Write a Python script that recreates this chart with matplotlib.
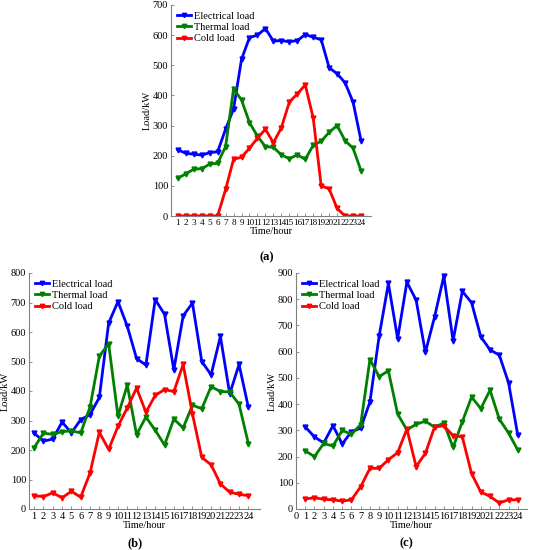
import matplotlib
matplotlib.use("Agg")
import matplotlib.pyplot as plt

plt.rcParams['font.family'] = ['Liberation Serif', 'DejaVu Serif']
plt.rcParams['font.size'] = 7.5

hours = list(range(1, 25))

# (a)
elec_a = [220, 208, 205, 202, 210, 213, 288, 355, 520, 592, 600, 622,
          580, 582, 578, 582, 602, 593, 585, 492, 472, 442, 378, 250]
therm_a = [125, 140, 155, 157, 172, 175, 230, 422, 385, 310, 265, 230,
           228, 203, 190, 203, 188, 235, 248, 278, 300, 250, 225, 150]
cold_a = [0, 0, 0, 0, 0, 0, 88, 188, 195, 225, 258, 288,
          243, 293, 378, 405, 435, 325, 100, 90, 25, 0, 0, 0]

# (b)
elec_b = [257, 230, 237, 295, 258, 303, 320, 378, 630, 703, 620, 510,
          488, 710, 660, 472, 655, 698, 500, 455, 585, 390, 490, 345]
therm_b = [208, 257, 253, 262, 265, 258, 345, 518, 560, 315, 420, 252,
           312, 267, 217, 305, 275, 352, 340, 415, 398, 397, 355, 222]
cold_b = [45, 42, 55, 38, 60, 40, 122, 260, 202, 280, 343, 410,
          328, 385, 405, 398, 490, 322, 175, 150, 85, 57, 50, 45]

# (c)
elec_c = [313, 275, 252, 318, 248, 295, 308, 408, 660, 860, 650, 865,
          797, 597, 733, 888, 642, 830, 787, 657, 607, 587, 482, 282]
therm_c = [222, 200, 250, 240, 300, 285, 322, 570, 505, 527, 362, 302,
           323, 335, 312, 328, 235, 333, 427, 383, 453, 343, 290, 225]
cold_c = [38, 43, 37, 35, 30, 35, 85, 155, 155, 188, 215, 305,
          162, 212, 313, 317, 280, 275, 135, 65, 48, 23, 35, 35]

W, H = 534, 550
fig = plt.figure(figsize=(W / 100, H / 100), dpi=100)


def make_ax(left, top, right, bottom):
    return fig.add_axes([left / W, 1 - bottom / H, (right - left) / W, (bottom - top) / H])


def draw(ax, e, t, c, ymax, xlim, xticks, label, label_xy, xfs=7.5):
    ax.plot(hours, e, color='#0000ff', lw=2, marker='v', ms=3.5, label='Electrical load')
    ax.plot(hours, t, color='#008000', lw=2, marker='v', ms=3.5, label='Thermal load')
    ax.plot(hours, c, color='#ff0000', lw=2, marker='v', ms=3.5, label='Cold load')
    ax.set_xlim(*xlim)
    ax.set_ylim(0, ymax)
    ax.set_xticks(xticks)
    ax.set_yticks(range(0, ymax + 1, 100))
    for s in ['top', 'right']:
        ax.spines[s].set_visible(False)
    for s in ['left', 'bottom']:
        ax.spines[s].set_color('#808080')
        ax.spines[s].set_linewidth(0.8)
    ax.tick_params(direction='in', length=2, width=0.6, color='#808080', pad=2)
    ax.tick_params(axis='x', labelsize=xfs)
    ax.set_xlabel('Time/hour', labelpad=0)
    ax.set_ylabel('Load/kW', labelpad=1)
    ax.legend(loc='upper left', frameon=False, handlelength=1.3, handletextpad=0.3,
              labelspacing=0.2, borderaxespad=0.2, markerscale=0.9)
    fig.text(label_xy[0] / W, 1 - label_xy[1] / H, label, ha='center', va='center',
             fontsize=9, fontweight='bold')


ax_a = make_ax(171, 5, 371, 216)
draw(ax_a, elec_a, therm_a, cold_a, 700, (0.15, 25.25), hours, '(a)', (267, 257), xfs=6.6)

ax_b = make_ax(29, 273, 260, 509)
draw(ax_b, elec_b, therm_b, cold_b, 800, (0.45, 25.25), hours, '(b)', (135, 543))

ax_c = make_ax(296, 273, 527, 509)
draw(ax_c, elec_c, therm_c, cold_c, 900, (0, 25), list(range(0, 25)), '(c)', (406, 543))

fig.savefig('out.png', dpi=100)
